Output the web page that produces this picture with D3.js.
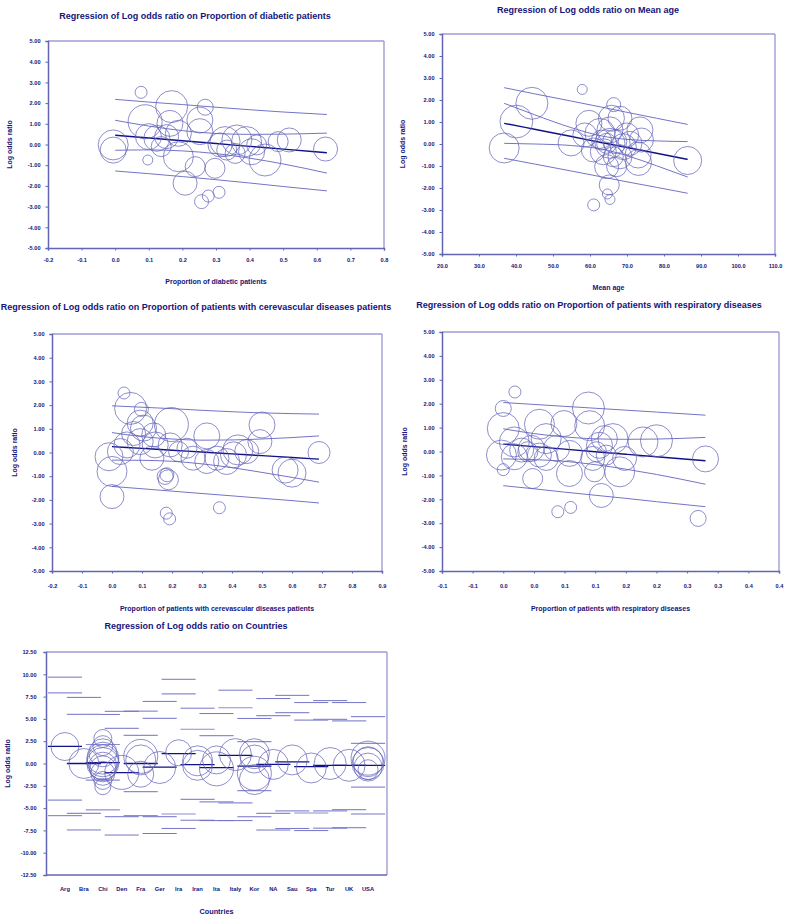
<!DOCTYPE html>
<html><head><meta charset="utf-8">
<script src="https://cdn.jsdelivr.net/npm/d3@7"></script>
<style>body{margin:0;background:#fff}svg{display:block}</style>
</head><body>
<svg id="c" width="786" height="918"></svg>
<script>
// ---------- DATA ----------
const yTickVals = [5,4,3,2,1,0,-1,-2,-3,-4,-5];
const yTickLabels = ["5.00","4.00","3.00","2.00","1.00","0.00","-1.00","-2.00","-3.00","-4.00","-5.00"];

// Panel 1: diabetic
const diabTickVals = [-0.2,-0.1,0,0.1,0.2,0.3,0.4,0.5,0.6,0.7,0.8];
const diabTickLabels = ["-0.2","-0.1","0.0","0.1","0.2","0.3","0.4","0.5","0.6","0.7","0.8"];
const diabStudies = [ // [x, logOR, weight]
 [0.077,2.52,30],[0.168,1.83,80],[0.268,1.80,40],[0.089,1.10,85],[0.163,1.02,65],[0.252,1.18,65],
 [0.252,0.62,65],[0.099,0.38,65],[0.124,0.30,65],[0.188,0.54,65],[0.153,0.38,60],[-0.006,-0.02,75],
 [-0.006,-0.27,65],[0.097,-0.75,25],[0.188,-0.59,75],[0.208,-1.87,60],[0.238,-1.07,50],[0.297,-1.15,50],
 [0.257,-2.76,35],[0.277,-2.49,30],[0.309,-2.31,30],[0.327,0.14,75],[0.312,-0.02,60],[0.332,-0.27,50],
 [0.362,0.22,75],[0.391,0.14,75],[0.406,-0.35,65],[0.421,-0.02,50],[0.446,-0.75,80],[0.485,0.14,50],
 [0.518,0.22,60],[0.626,-0.22,60],[0.357,-0.43,50],[0.137,-0.10,50]
];
const diabLineX = [0,0.1,0.2,0.3,0.4,0.5,0.63];
const diabMean  = [0.45,0.315,0.18,0.045,-0.09,-0.225,-0.40];
const diabCiUp  = [1.17,0.89,0.67,0.53,0.49,0.50,0.55];
const diabCiLo  = [-0.28,-0.26,-0.31,-0.44,-0.66,-0.94,-1.38];
const diabPiUp  = [2.18,2.05,1.93,1.80,1.68,1.57,1.45];
const diabPiLo  = [-1.28,-1.41,-1.55,-1.70,-1.86,-2.03,-2.24];

// Panel 2: mean age
const ageTickVals = [20,30,40,50,60,70,80,90,100,110];
const ageTickLabels = ["20.0","30.0","40.0","50.0","60.0","70.0","80.0","90.0","100.0","110.0"];
const ageStudies = [
 [57.9,2.48,25],[44.3,1.85,80],[40.1,1.02,82],[36.8,-0.18,75],[66.4,1.79,35],[54.9,0.05,65],
 [59.7,0.94,65],[58.6,0.41,60],[65.8,1.17,65],[68.1,1.17,60],[62.7,0.48,75],[65.4,0.64,65],
 [73.5,0.64,65],[73.9,0.18,60],[60.9,-0.27,60],[63.6,-0.35,65],[65.4,0.03,75],[66.7,0.11,60],
 [69.0,-0.12,65],[70.8,0.03,60],[73.0,-0.50,65],[73.1,-0.84,65],[64.5,-1.03,60],[67.2,-1.03,50],
 [65.2,-1.86,50],[64.7,-2.27,25],[65.4,-2.52,25],[61.0,-2.77,30],[86.4,-0.75,70],[68.1,-0.58,60],
 [64.5,0.03,50],[66.3,-0.58,50],[69.9,0.41,60],[63.1,0.18,50]
];
const ageLineX = [36.8,45,55,63,70,78,86.4];
const ageMean  = [0.94,0.67,0.34,0.07,-0.16,-0.42,-0.70];
const ageCiUp  = [1.85,1.33,0.74,0.37,0.21,0.14,0.11];
const ageCiLo  = [0.03,0.00,-0.07,-0.23,-0.53,-0.99,-1.50];
const agePiUp  = [2.56,2.28,1.95,1.68,1.44,1.17,0.89];
const agePiLo  = [-0.65,-0.91,-1.23,-1.49,-1.72,-1.97,-2.24];

// Panel 3: cerebrovascular
const cereTickVals = [-0.2,-0.1,0,0.1,0.2,0.3,0.4,0.5,0.6,0.7,0.8,0.9];
const cereTickLabels = ["-0.2","-0.1","0.0","0.1","0.2","0.3","0.4","0.5","0.6","0.7","0.8","0.9"];
const cereStudies = [
 [0.040,2.51,30],[0.062,1.86,80],[0.098,1.82,35],[0.094,1.24,65],[0.105,1.03,65],[0.198,1.18,85],
 [0.139,0.74,60],[0.144,0.32,65],[0.094,0.46,65],[0.072,0.80,60],[0.050,0.32,65],[0.028,0.04,65],
 [-0.010,-0.18,70],[0.000,-0.80,75],[0.000,-1.86,60],[0.133,-0.24,60],[0.183,-0.94,35],[0.188,-1.15,50],
 [0.177,-1.01,40],[0.181,-2.56,30],[0.192,-2.80,30],[0.358,-2.33,30],[0.250,0.18,50],[0.270,-0.24,60],
 [0.316,0.70,65],[0.316,-0.38,60],[0.350,-0.24,60],[0.382,-0.38,65],[0.420,0.11,75],[0.405,-0.10,65],
 [0.449,0.04,60],[0.500,1.16,65],[0.493,0.46,60],[0.577,-0.74,65],[0.600,-0.87,70],[0.690,0.00,55],
 [0.194,0.32,60],[0.222,0.04,50]
];
const cereLineX = [0,0.1,0.2,0.3,0.4,0.5,0.6,0.69];
const cereMean  = [0.25,0.173,0.096,0.02,-0.057,-0.134,-0.211,-0.28];
const cereCiUp  = [0.84,0.67,0.57,0.52,0.53,0.57,0.63,0.70];
const cereCiLo  = [-0.32,-0.33,-0.37,-0.48,-0.64,-0.84,-1.05,-1.25];
const cerePiUp  = [1.97,1.91,1.85,1.78,1.72,1.67,1.64,1.62];
const cerePiLo  = [-1.43,-1.53,-1.63,-1.73,-1.83,-1.93,-2.03,-2.13];

// Panel 4: respiratory
const respTickVals = [-0.10,-0.05,0,0.05,0.10,0.15,0.20,0.25,0.30,0.35,0.40,0.45];
const respTickLabels = ["-0.1","-0.1","0.0","0.0","0.1","0.1","0.2","0.2","0.3","0.3","0.4","0.4"];
const respStudies = [
 [0.019,2.49,30],[0.000,1.80,40],[0.000,0.96,80],[-0.003,-0.15,75],[0.000,-0.76,30],[0.018,0.40,75],
 [0.018,-0.22,65],[0.030,0.06,60],[0.040,-0.01,50],[0.046,0.13,65],[0.059,1.14,75],[0.048,-1.13,50],
 [0.059,-0.15,60],[0.070,0.54,75],[0.070,-0.29,60],[0.087,0.13,65],[0.099,1.17,65],[0.108,-0.08,65],
 [0.108,-0.92,65],[0.139,1.82,80],[0.141,1.08,75],[0.089,-2.52,30],[0.110,-2.34,30],[0.160,-1.84,60],
 [0.149,-0.85,50],[0.146,-0.29,60],[0.157,0.26,65],[0.165,0.54,65],[0.179,0.54,75],[0.168,-0.15,50],
 [0.190,-0.85,75],[0.198,-0.29,60],[0.228,0.40,75],[0.250,0.45,80],[0.330,-0.31,65],[0.318,-2.80,40],
 [0.152,-0.01,50]
];
const respLineX = [0,0.05,0.10,0.15,0.20,0.25,0.33];
const respMean  = [0.31,0.204,0.098,-0.008,-0.114,-0.22,-0.39];
const respCiUp  = [0.95,0.75,0.61,0.53,0.51,0.52,0.59];
const respCiLo  = [-0.31,-0.34,-0.41,-0.55,-0.74,-0.96,-1.37];
const respPiUp  = [2.05,1.97,1.89,1.81,1.73,1.65,1.52];
const respPiLo  = [-1.43,-1.56,-1.70,-1.83,-1.96,-2.10,-2.31];

// Panel 5: countries
const countries = ["Arg","Bra","Chi","Den","Fra","Ger","Ira","Iran","Ita","Italy","Kor","NA","Sau","Spa","Tur","UK","USA"];
const ctyTickVals = [12.5,10,7.5,5,2.5,0,-2.5,-5,-7.5,-10,-12.5];
const ctyTickLabels = ["12.50","10.00","7.50","5.00","2.50","0.00","-2.50","-5.00","-7.50","-10.00","-12.50"];
const ctyMean = [1.92,0.00,0.10,-1.03,0.00,-0.40,1.10,-0.12,-0.47,0.92,-0.30,-0.10,0.19,-0.35,-0.20,-0.20,-0.20];
const ctyCiUp = [7.92,5.50,2.13,3.93,3.15,5.05,7.80,3.84,3.13,6.25,2.45,5.37,5.70,4.87,4.95,4.77,2.25];
const ctyCiLo = [-4.10,-5.59,-1.87,-5.96,-3.16,-5.96,-5.66,-4.03,-4.30,-4.42,-3.05,-5.60,-5.30,-5.55,-5.30,-5.18,-2.65];
const ctyPiUp = [9.68,7.41,5.50,5.85,5.87,6.96,9.44,6.20,5.60,8.22,5.05,7.28,7.64,6.83,7.05,6.83,5.25];
const ctyPiLo = [-5.85,-7.45,-5.20,-8.02,-5.85,-7.85,-7.28,-6.36,-6.40,-6.40,-5.97,-7.46,-7.28,-7.52,-7.25,-7.20,-5.66];
const ctyStudies = [ // [country, logOR, weight]
 ["Arg",1.9,70],["Bra",0.0,75],
 ["Chi",2.8,45],["Chi",2.0,50],["Chi",1.2,70],["Chi",0.6,80],["Chi",0.3,80],["Chi",0.0,80],["Chi",-0.3,70],
 ["Chi",-0.6,65],["Chi",-1.1,60],["Chi",-1.9,45],["Chi",-2.6,40],
 ["Den",-1.0,85],["Fra",0.8,85],["Fra",0.4,75],["Fra",-1.2,65],["Ger",-0.45,80],["Ira",1.2,65],
 ["Iran",0.3,75],["Iran",-0.2,75],["Ita",0.4,70],["Ita",-0.6,85],["Italy",1.0,80],
 ["Kor",1.1,75],["Kor",0.5,70],["Kor",-1.1,85],["Kor",-1.8,75],["NA",-0.1,75],["Sau",0.4,75],
 ["Spa",-0.5,75],["Tur",0.0,80],["UK",-0.2,80],
 ["USA",0.6,85],["USA",0.2,75],["USA",0.0,80],["USA",-0.4,70],["USA",-0.7,50]
];

// ---------- DRAWING ----------
const svg = d3.select("#c");
const FONT = "'Liberation Sans', Arial, sans-serif";
const TXT = "#14147a";
const CIRC = "#6262b8";
const LINE = "#7474c6";
const MEAN = "#101088";
const AXIS = "#6464b6";
const FRAME = "#9c9cd6";
const rScale = d3.scaleLinear().domain([0,100]).range([0,20]);

function frameAndAxes(g, box, y, yVals, yLabels, yLabGap) {
  g.append("line").attr("x1",box.l).attr("x2",box.r).attr("y1",box.t).attr("y2",box.t)
    .attr("stroke",FRAME).attr("stroke-width",1.6);
  g.append("line").attr("x1",box.r).attr("x2",box.r).attr("y1",box.t).attr("y2",box.b)
    .attr("stroke",FRAME).attr("stroke-width",1.4);
  const ya = d3.axisLeft(y).tickValues(yVals).tickFormat((d,i)=>yLabels[i]).tickSize(2.5).tickPadding(yLabGap);
  const yg = g.append("g").attr("transform",`translate(${box.l},0)`).call(ya);
  yg.select(".domain").attr("stroke",AXIS).attr("stroke-width",1.5);
  yg.selectAll(".tick line").attr("stroke",AXIS);
  yg.selectAll("text").attr("fill",TXT).attr("font-family",FONT).attr("font-size",5.6).attr("font-weight","bold");
}

function regPanel(cfg) {
  const g = svg.append("g");
  const box = cfg.box;
  const x = d3.scaleLinear().domain(cfg.xDomain).range([box.l, box.r]);
  const y = d3.scaleLinear().domain([-5,5]).range([box.b, box.t]);
  frameAndAxes(g, box, y, yTickVals, yTickLabels, 5);
  const xa = d3.axisBottom(x).tickValues(cfg.xTicks).tickFormat((d,i)=>cfg.xLabels[i]).tickSize(2.5).tickPadding(cfg.xPad);
  const xg = g.append("g").attr("transform",`translate(0,${box.b})`).call(xa);
  xg.select(".domain").attr("stroke",AXIS).attr("stroke-width",1.5);
  xg.selectAll(".tick line").attr("stroke",AXIS);
  xg.selectAll("text").attr("fill",TXT).attr("font-family",FONT).attr("font-size",5.6).attr("font-weight","bold");

  const line = d3.line().x(d=>x(d[0])).y(d=>y(d[1])).curve(d3.curveMonotoneX);
  [[cfg.piUp,LINE,1],[cfg.ciUp,LINE,1],[cfg.ciLo,LINE,1],[cfg.piLo,LINE,1],[cfg.mean,MEAN,1.4]].forEach(([arr,col,w])=>{
    g.append("path").attr("d", line(cfg.lx.map((v,i)=>[v,arr[i]])))
      .attr("fill","none").attr("stroke",col).attr("stroke-width",w);
  });
  g.selectAll("circle.s").data(cfg.studies).join("circle").attr("class","s")
    .attr("cx",d=>x(d[0])).attr("cy",d=>y(d[1])).attr("r",d=>rScale(d[2]))
    .attr("fill","none").attr("stroke",CIRC).attr("stroke-width",0.85).attr("stroke-opacity",0.85);

  g.append("text").attr("x",cfg.titleX).attr("y",cfg.titleY).attr("text-anchor","middle")
    .attr("font-family",FONT).attr("font-size",9).attr("font-weight","bold").attr("fill",TXT).text(cfg.title);
  g.append("text").attr("x",(box.l+box.r)/2).attr("y",cfg.xTitleY).attr("text-anchor","middle")
    .attr("font-family",FONT).attr("font-size",7).attr("font-weight","bold").attr("fill",TXT).text(cfg.xTitle);
  g.append("text").attr("transform",`translate(${cfg.yTitleX},${(box.t+box.b)/2}) rotate(-90)`).attr("text-anchor","middle")
    .attr("font-family",FONT).attr("font-size",7).attr("font-weight","bold").attr("fill",TXT).text("Log odds ratio");
}

regPanel({box:{l:48,r:384,t:41,b:248}, xDomain:[-0.2,0.8], xTicks:diabTickVals, xLabels:diabTickLabels, xPad:8,
  studies:diabStudies, lx:diabLineX, mean:diabMean, ciUp:diabCiUp, ciLo:diabCiLo, piUp:diabPiUp, piLo:diabPiLo,
  title:"Regression of Log odds ratio on Proportion of diabetic patients", titleX:195, titleY:19,
  xTitle:"Proportion of diabetic patients", xTitleY:284, yTitleX:12});

regPanel({box:{l:442,r:775,t:34,b:254}, xDomain:[20,110], xTicks:ageTickVals, xLabels:ageTickLabels, xPad:8,
  studies:ageStudies, lx:ageLineX, mean:ageMean, ciUp:ageCiUp, ciLo:ageCiLo, piUp:agePiUp, piLo:agePiLo,
  title:"Regression of Log odds ratio on Mean age", titleX:588, titleY:12.5,
  xTitle:"Mean age", xTitleY:290, yTitleX:405});

regPanel({box:{l:52,r:382,t:334,b:571}, xDomain:[-0.2,0.9], xTicks:cereTickVals, xLabels:cereTickLabels, xPad:11,
  studies:cereStudies, lx:cereLineX, mean:cereMean, ciUp:cereCiUp, ciLo:cereCiLo, piUp:cerePiUp, piLo:cerePiLo,
  title:"Regression of Log odds ratio on Proportion of patients with cerevascular diseases patients", titleX:196, titleY:310,
  xTitle:"Proportion of patients with cerevascular diseases patients", xTitleY:611, yTitleX:17});

regPanel({box:{l:442,r:779,t:332,b:571}, xDomain:[-0.10,0.45], xTicks:respTickVals, xLabels:respTickLabels, xPad:11,
  studies:respStudies, lx:respLineX, mean:respMean, ciUp:respCiUp, ciLo:respCiLo, piUp:respPiUp, piLo:respPiLo,
  title:"Regression of Log odds ratio on Proportion of patients with respiratory diseases", titleX:589, titleY:307.5,
  xTitle:"Proportion of patients with respiratory diseases", xTitleY:611, yTitleX:407});

// Countries panel
(function(){
  const g = svg.append("g");
  const box = {l:46,r:387,t:652,b:875};
  const x = d3.scalePoint().domain(countries).range([box.l,box.r]).padding(1);
  const step = x.step();
  const y = d3.scaleLinear().domain([-12.5,12.5]).range([box.b,box.t]);
  frameAndAxes(g, box, y, ctyTickVals, ctyTickLabels, 7);
  g.append("line").attr("x1",box.l).attr("x2",box.r).attr("y1",box.b).attr("y2",box.b)
    .attr("stroke",AXIS).attr("stroke-width",1.5);
  g.selectAll("text.cl").data(countries).join("text").attr("class","cl")
    .attr("x",d=>x(d)).attr("y",891).attr("text-anchor","middle")
    .attr("font-family",FONT).attr("font-size",5.8).attr("font-weight","bold").attr("fill",TXT).text(d=>d);

  const seg = (arr,col,w)=>{
    g.append("g").selectAll("line").data(countries).join("line")
      .attr("x1",d=>x(d)-0.9*step).attr("x2",d=>x(d)+0.9*step)
      .attr("y1",(d,i)=>y(arr[i])).attr("y2",(d,i)=>y(arr[i]))
      .attr("stroke",col).attr("stroke-width",w);
  };
  seg(ctyPiUp,LINE,1); seg(ctyCiUp,"#8c8cd2",1.2); seg(ctyCiLo,"#8c8cd2",1.2); seg(ctyPiLo,LINE,1);
  seg(ctyMean,MEAN,1.3);

  g.selectAll("circle").data(ctyStudies).join("circle")
    .attr("cx",d=>x(d[0])).attr("cy",d=>y(d[1])).attr("r",d=>rScale(d[2]))
    .attr("fill","none").attr("stroke",CIRC).attr("stroke-width",0.85).attr("stroke-opacity",0.85);

  g.append("text").attr("x",196).attr("y",628.5).attr("text-anchor","middle")
    .attr("font-family",FONT).attr("font-size",9).attr("font-weight","bold").attr("fill",TXT)
    .text("Regression of Log odds ratio on Countries");
  g.append("text").attr("x",(box.l+box.r)/2).attr("y",914).attr("text-anchor","middle")
    .attr("font-family",FONT).attr("font-size",7.3).attr("font-weight","bold").attr("fill",TXT).text("Countries");
  g.append("text").attr("transform",`translate(10,${(box.t+box.b)/2}) rotate(-90)`).attr("text-anchor","middle")
    .attr("font-family",FONT).attr("font-size",7).attr("font-weight","bold").attr("fill",TXT).text("Log odds ratio");
})();
</script>
</body></html>
